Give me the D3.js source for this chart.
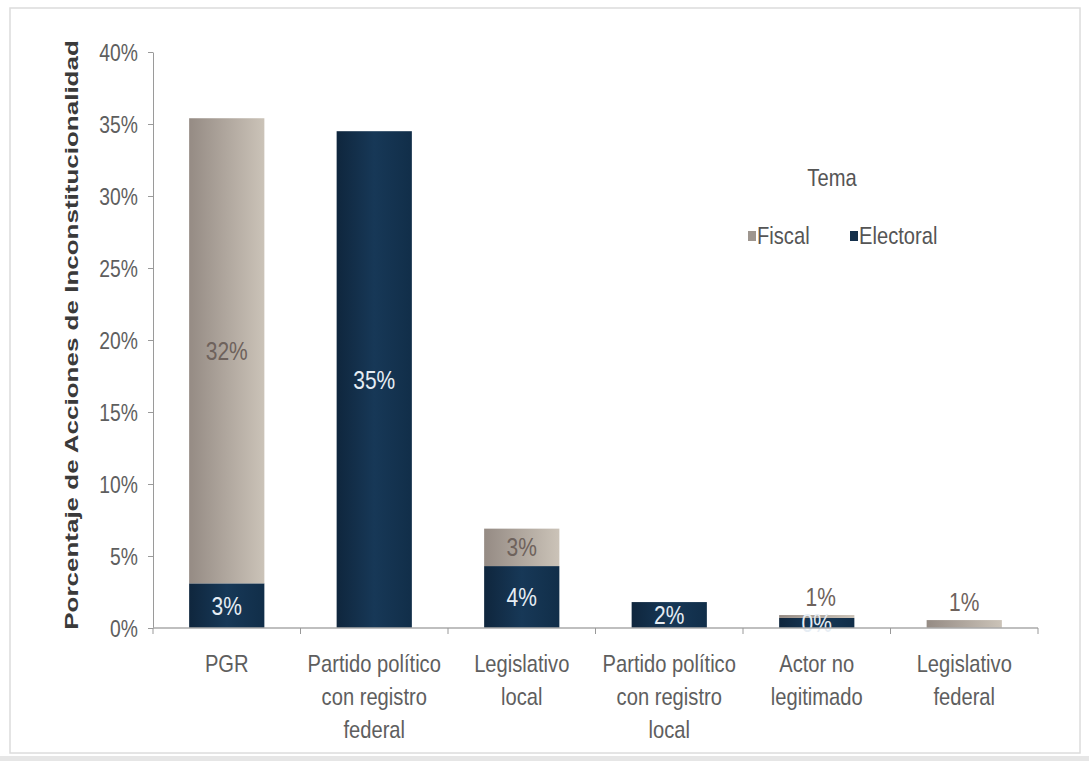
<!DOCTYPE html>
<html><head><meta charset="utf-8">
<script src="https://cdn.jsdelivr.net/npm/d3@7"></script>
<style>
body{margin:0;background:#fff;}
text{font-family:"Liberation Sans",Arial,sans-serif;}
</style></head><body>
<svg id="c" width="1089" height="771"></svg>
<script>
const categories = [["PGR"],["Partido político","con registro","federal"],["Legislativo","local"],["Partido político","con registro","local"],["Actor no","legitimado"],["Legislativo","federal"]];
const electoral = [3.1, 34.5, 4.3, 1.8, 0.7, 0];
const fiscal = [32.3, 0, 2.6, 0, 0.2, 0.55];
const electoralLabels = ["3%","35%","4%","2%","0%",""];
const fiscalLabels = ["32%","","3%","","1%","1%"];
const yTicks = [0,5,10,15,20,25,30,35,40];
const seriesNames = ["Fiscal","Electoral"];

const SX = 0.84;
const svg = d3.select("#c");
const defs = svg.append("defs");
const gf = defs.append("linearGradient").attr("id","gFiscal").attr("x1","0").attr("x2","1");
gf.append("stop").attr("offset","0").attr("stop-color","#958b84");
gf.append("stop").attr("offset","1").attr("stop-color","#cbc3b8");
const ge = defs.append("linearGradient").attr("id","gElec").attr("x1","0").attr("x2","1");
ge.append("stop").attr("offset","0").attr("stop-color","#0f263d");
ge.append("stop").attr("offset","0.5").attr("stop-color","#173857");
ge.append("stop").attr("offset","1").attr("stop-color","#112e49");

function txt(parent, x, y, s, size, fill, anchor){
  return parent.append("text").attr("transform",`translate(${x},${y}) scale(${SX},1)`)
    .attr("text-anchor",anchor||"middle").attr("font-size",size).attr("fill",fill).text(s);
}

// frame
svg.append("rect").attr("x",10).attr("y",8).attr("width",1070).attr("height",745)
  .attr("fill","none").attr("stroke","#dcdcdc").attr("stroke-width",1.5);
svg.append("rect").attr("x",0).attr("y",756).attr("width",1089).attr("height",5).attr("fill","#e6e6e6");

const x = d3.scaleBand().domain(d3.range(categories.length)).range([153,1038]).paddingInner(0.49).paddingOuter(0.245);
const xb = d3.scaleBand().domain(d3.range(categories.length)).range([153,1038]);
const y = d3.scaleLinear().domain([0,40]).range([628,52]);

// y axis
const ya = svg.append("g").attr("transform","translate(153,0)")
  .call(d3.axisLeft(y).tickValues(yTicks).tickFormat(d=>d+"%").tickSize(5).tickSizeOuter(0));
ya.select(".domain").attr("stroke","#9a9a9a");
ya.selectAll(".tick line").attr("stroke","#9a9a9a");
ya.selectAll(".tick text").attr("x",null).attr("dy",null)
  .attr("transform",`translate(-15,8) scale(${SX},1)`)
  .attr("fill","#5e5e5e").attr("font-size",23).attr("font-family","Liberation Sans, Arial, sans-serif");

// bars
const g = svg.append("g");
categories.forEach((c,i)=>{
  if(electoral[i]>0){
    g.append("rect").attr("x",x(i)).attr("width",x.bandwidth())
      .attr("y",y(electoral[i])).attr("height",y(0)-y(electoral[i])).attr("fill","url(#gElec)");
  }
  if(fiscal[i]>0){
    g.append("rect").attr("x",x(i)).attr("width",x.bandwidth())
      .attr("y",y(electoral[i]+fiscal[i])).attr("height",y(electoral[i])-y(electoral[i]+fiscal[i])).attr("fill","url(#gFiscal)");
  }
});

// x axis
const xa = svg.append("g").attr("transform","translate(0,628)");
xa.append("line").attr("x1",153).attr("x2",1038).attr("stroke","#aaa").attr("stroke-width",1.5);
d3.range(categories.length+1).forEach(i=>{
  const xp = i<categories.length ? xb(i) : 1038;
  xa.append("line").attr("x1",xp).attr("x2",xp).attr("y1",0).attr("y2",6).attr("stroke","#999");
});
categories.forEach((c,i)=>{
  c.forEach((line,j)=>txt(xa, xb(i)+xb.bandwidth()/2, 44 + j*33, line, 24, "#5e5e5e"));
});

// labels
categories.forEach((c,i)=>{
  const cx = x(i)+x.bandwidth()/2;
  if(electoralLabels[i]){
    const yy = (y(0)+y(electoral[i]))/2 + 9;
    txt(g, cx, yy, electoralLabels[i], 25, "#e6edf4");
  }
  if(fiscalLabels[i]){
    const top = y(electoral[i]+fiscal[i]);
    const h = y(electoral[i]) - top;
    const yy = h>20 ? top + h/2 + 9 : top - 9;
    txt(g, cx + (i===4?4:0), yy, fiscalLabels[i], 25, "#6e625c");
  }
});

// y label
svg.append("text").attr("transform","translate(78,335) scale(0.74,1) rotate(-90)").attr("text-anchor","middle")
  .attr("font-weight","bold").attr("font-size",26).attr("fill","#3a3a3a")
  .text("Porcentaje de Acciones de Inconstitucionalidad");

// legend
txt(svg, 832, 186, "Tema", 24, "#555");
const lg = svg.append("g");
const legItems = [{n:seriesNames[0],c:"#9e968f",x:748},{n:seriesNames[1],c:"#14304c",x:850}];
legItems.forEach(d=>{
  lg.append("rect").attr("x",d.x).attr("y",231).attr("width",8).attr("height",10).attr("fill",d.c);
  txt(lg, d.x+9, 244, d.n, 24, "#555", "start");
});
</script>
</body></html>
